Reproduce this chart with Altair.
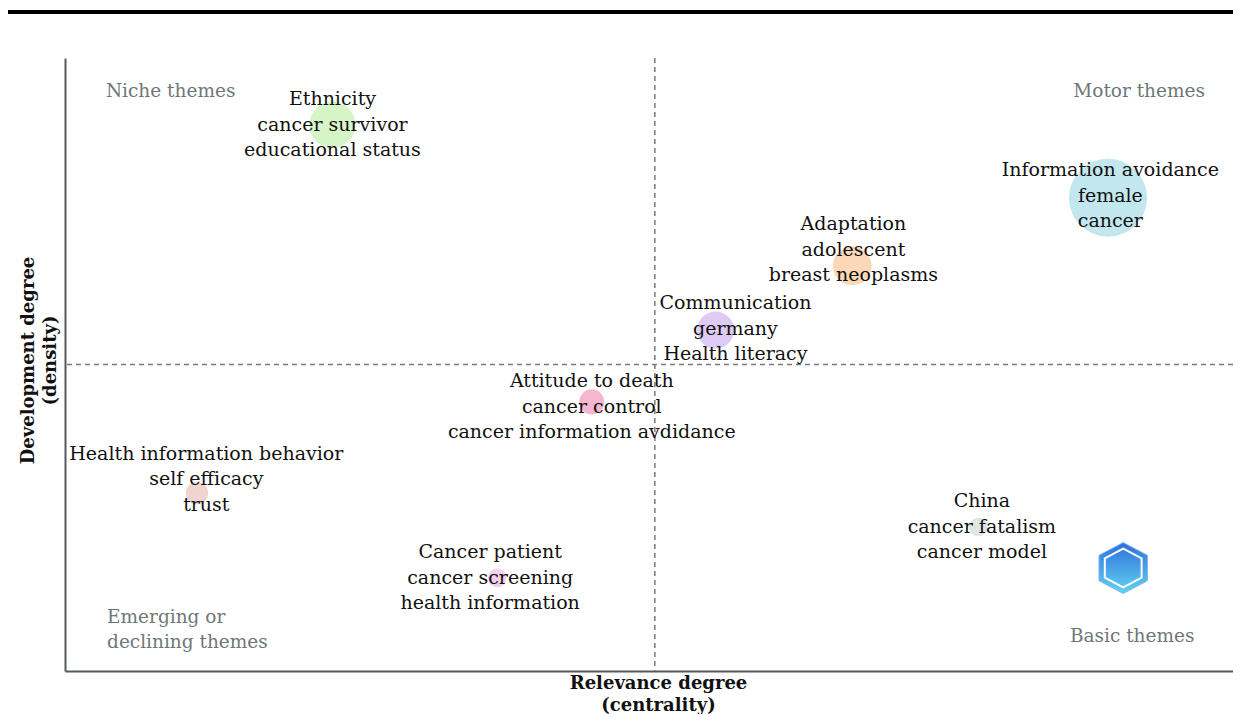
import altair as alt
import pandas as pd

# ---- data ----
themes = [
    "Ethnicity\ncancer survivor\neducational status",
    "Information avoidance\nfemale\ncancer",
    "Adaptation\nadolescent\nbreast neoplasms",
    "Communication\ngermany\nHealth literacy",
    "Attitude to death\ncancer control\ncancer information avdidance",
    "Health information behavior\nself efficacy\ntrust",
    "Cancer patient\ncancer screening\nhealth information",
    "China\ncancer fatalism\ncancer model",
]
centrality = [22.9, 89.3, 67.4, 55.7, 45.1, 11.3, 37.0, 78.2]
density = [89.1, 77.2, 66.1, 55.6, 43.9, 29.0, 15.2, 23.5]
cluster_size = [68, 194, 48, 44, 20, 16, 11, 11]
bubble_colors = ["#d6f5c6", "#c2e7ee", "#fbd8b7", "#ddcbf3", "#f6b6cf", "#efd4d0", "#f4d0ed", "#dfe7e2"]
label_x = [22.9, 89.5, 67.5, 57.4, 45.1, 12.1, 36.4, 78.5]
label_y = [89.1, 77.5, 68.7, 55.8, 43.1, 31.3, 15.2, 23.5]

centrality_cut = [50.5]
density_cut = [50.0]

quad_left = ["Niche themes", "Emerging or\ndeclining themes"]
quad_left_x = [3.5, 3.6]
quad_left_y = [94.6, 8.8]
quad_right = ["Motor themes", "Basic themes"]
quad_right_x = [97.6, 96.7]
quad_right_y = [94.6, 5.7]

logo_x = [90.6]
logo_y = [16.8]

FONT = "DejaVu Serif"

df = pd.DataFrame({
    "theme": themes, "centrality": centrality, "density": density,
    "size": cluster_size, "color": bubble_colors,
    "lx": label_x, "ly": label_y,
})
qleft = pd.DataFrame({"t": quad_left, "x": quad_left_x, "y": quad_left_y})
qright = pd.DataFrame({"t": quad_right, "x": quad_right_x, "y": quad_right_y})
vcut = pd.DataFrame({"x": centrality_cut})
hcut = pd.DataFrame({"y": density_cut})
logo = pd.DataFrame({"x": logo_x, "y": logo_y})

xs = alt.Scale(domain=[0, 100], nice=False, zero=False)
ys = alt.Scale(domain=[0, 100], nice=False, zero=False)

x_axis = alt.Axis(
    title=["Relevance degree", "(centrality)"], labels=False, ticks=False, grid=False,
    domainColor="#525a5a", domainWidth=2,
    titleFont=FONT, titleFontSize=18, titleFontWeight="bold", titleColor="#111111",
    titleX=593, titleY=12, titleAlign="center", titleBaseline="middle", titleLineHeight=22,
)
y_axis = alt.Axis(
    title=["Development degree", "(density)"], labels=False, ticks=False, grid=False,
    domainColor="#525a5a", domainWidth=2,
    titleFont=FONT, titleFontSize=18, titleFontWeight="bold", titleColor="#111111",
    titleAngle=270, titleX=-37, titleY=302, titleAlign="center", titleBaseline="middle",
    titleLineHeight=22,
)

base = alt.Chart(df)

bubbles = base.mark_circle(opacity=1).encode(
    x=alt.X("centrality:Q", scale=xs, axis=x_axis),
    y=alt.Y("density:Q", scale=ys, axis=y_axis),
    size=alt.Size("size:Q", scale=alt.Scale(type="linear", domain=[0, 194], range=[0, 6082], zero=True), legend=None),
    color=alt.Color("color:N", scale=None),
)

labels = base.mark_text(
    font=FONT, fontSize=19, lineBreak="\n", lineHeight=25.5, color="#111111",
    align="center", baseline="middle", dy=-25.5,
).encode(
    x=alt.X("lx:Q", scale=xs), y=alt.Y("ly:Q", scale=ys), text="theme:N",
)

vrule = alt.Chart(vcut).mark_rule(color="#7a7a7a", strokeDash=[5, 4], strokeWidth=1.5).encode(
    x=alt.X("x:Q", scale=xs)
)
hrule = alt.Chart(hcut).mark_rule(color="#7a7a7a", strokeDash=[5, 4], strokeWidth=1.5).encode(
    y=alt.Y("y:Q", scale=ys)
)

ql = alt.Chart(qleft).mark_text(
    font=FONT, fontSize=18.5, color="#6e7777", align="left", baseline="middle",
    lineBreak="\n", lineHeight=25,
).encode(x=alt.X("x:Q", scale=xs), y=alt.Y("y:Q", scale=ys), text="t:N")
qr = alt.Chart(qright).mark_text(
    font=FONT, fontSize=18.5, color="#6e7777", align="right", baseline="middle",
    lineBreak="\n", lineHeight=25,
).encode(x=alt.X("x:Q", scale=xs), y=alt.Y("y:Q", scale=ys), text="t:N")

hex_path = "M0,-1 L0.95,-0.5 L0.95,0.5 L0,1 L-0.95,0.5 L-0.95,-0.5 Z"
logo_outer = alt.Chart(logo).mark_point(
    shape=hex_path, size=2600, filled=True, opacity=1,
    fill={"gradient": "linear", "x1": 0, "y1": 0, "x2": 0, "y2": 1,
          "stops": [{"offset": 0, "color": "#2f6fdc"}, {"offset": 1, "color": "#62d3f2"}]},
    stroke="#7fb8f0", strokeWidth=1,
).encode(x=alt.X("x:Q", scale=xs), y=alt.Y("y:Q", scale=ys))
logo_inner = alt.Chart(logo).mark_point(
    shape=hex_path, size=1500, filled=False, opacity=1, stroke="#ffffff", strokeWidth=2,
).encode(x=alt.X("x:Q", scale=xs), y=alt.Y("y:Q", scale=ys))

top_bar = alt.Chart(logo).mark_rule(color="#000000", strokeWidth=4).encode(
    x=alt.value(-57), x2=alt.value(1168), y=alt.value(-46)
)

chart = alt.layer(
    vrule, hrule, bubbles, logo_outer, logo_inner, labels, ql, qr, top_bar
).properties(
    width=1168, height=613,
    padding={"left": 57, "top": 50, "right": 0, "bottom": 43},
    autosize=alt.AutoSizeParams(type="none"),
    background="#ffffff",
).configure_view(stroke=None, strokeWidth=0)

chart.save("out.html", embed_options={"renderer": "svg", "actions": False})
